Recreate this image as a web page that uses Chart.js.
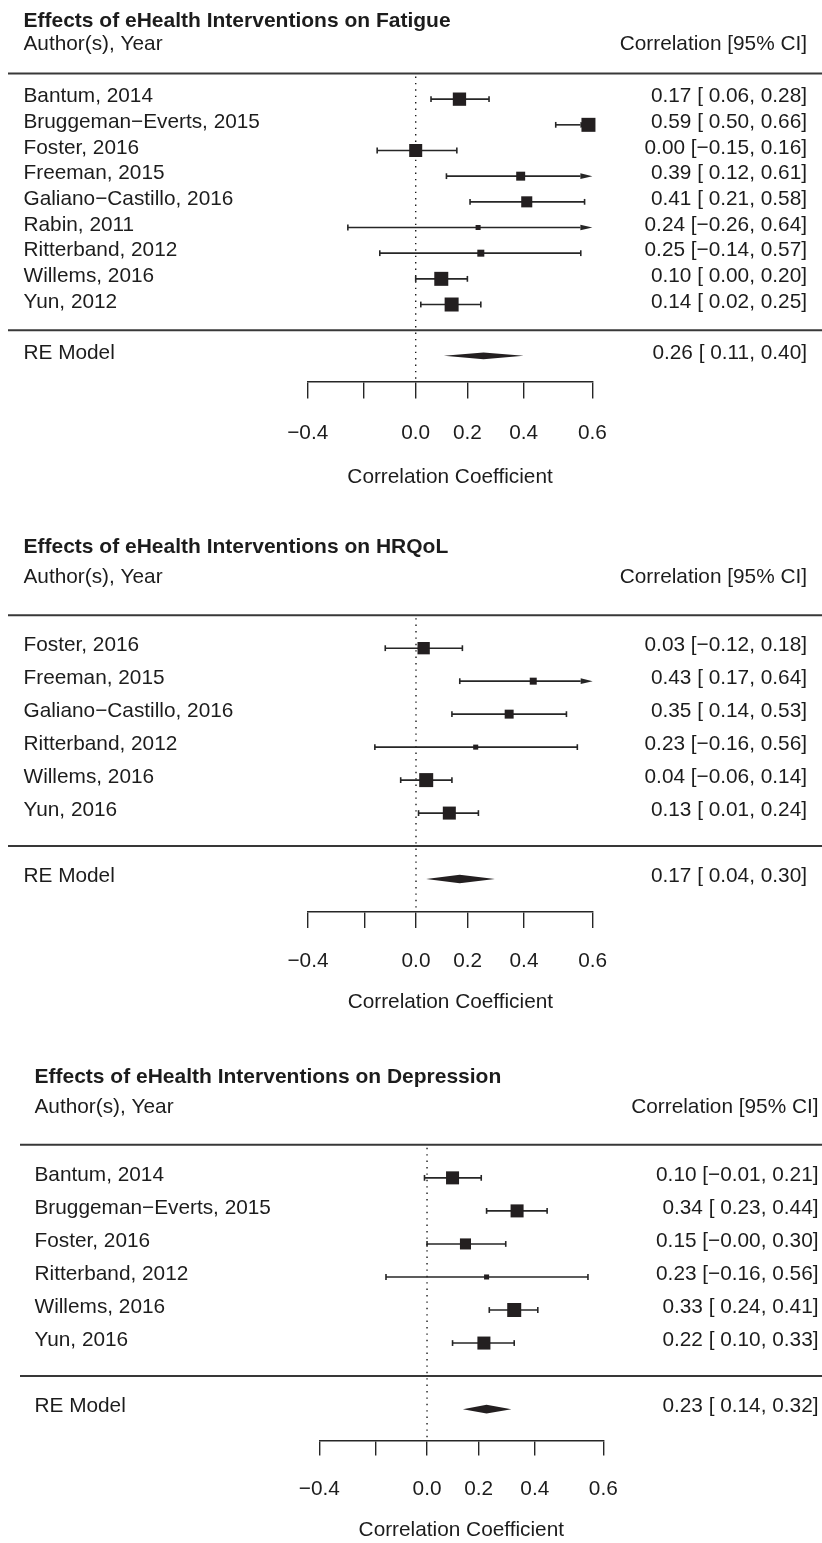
<!DOCTYPE html>
<html>
<head>
<meta charset="utf-8">
<title>eHealth forest plots</title>
<script src="https://cdn.jsdelivr.net/npm/chart.js@4.4.1/dist/chart.umd.min.js"></script>
<style>
  html, body { margin: 0; padding: 0; background: #fff; }
  body { width: 822px; height: 1543px; position: relative; overflow: hidden; }
  .panel { position: absolute; left: 0; width: 822px; }
</style>
</head>
<body>
<div class="panel" id="fatigueBox"><canvas id="fatigueChart"></canvas></div>
<div class="panel" id="hrqolBox"><canvas id="hrqolChart"></canvas></div>
<div class="panel" id="depressionBox"><canvas id="depressionChart"></canvas></div>
<script>
// ---------------- data (correlations)
const fatigueStudies = ['Bantum, 2014', 'Bruggeman−Everts, 2015', 'Foster, 2016', 'Freeman, 2015',
  'Galiano−Castillo, 2016', 'Rabin, 2011', 'Ritterband, 2012', 'Willems, 2016', 'Yun, 2012'];
const fatigueEst = [0.17, 0.59, 0.00, 0.39, 0.41, 0.24, 0.25, 0.10, 0.14];
const fatigueLo = [0.06, 0.50, -0.15, 0.12, 0.21, -0.26, -0.14, 0.00, 0.02];
const fatigueHi = [0.28, 0.66, 0.16, 0.61, 0.58, 0.64, 0.57, 0.20, 0.25];
const fatigueWeight = [0.95, 1.00, 0.93, 0.64, 0.79, 0.36, 0.50, 1.00, 1.00];
const fatigueRE = [0.26, 0.11, 0.40];

const hrqolStudies = ['Foster, 2016', 'Freeman, 2015', 'Galiano−Castillo, 2016',
  'Ritterband, 2012', 'Willems, 2016', 'Yun, 2016'];
const hrqolEst = [0.03, 0.43, 0.35, 0.23, 0.04, 0.13];
const hrqolLo = [-0.12, 0.17, 0.14, -0.16, -0.06, 0.01];
const hrqolHi = [0.18, 0.64, 0.53, 0.56, 0.14, 0.24];
const hrqolWeight = [0.88, 0.50, 0.64, 0.36, 1.00, 0.93];
const hrqolRE = [0.17, 0.04, 0.30];

const depressionStudies = ['Bantum, 2014', 'Bruggeman−Everts, 2015', 'Foster, 2016',
  'Ritterband, 2012', 'Willems, 2016', 'Yun, 2016'];
const depressionEst = [0.10, 0.34, 0.15, 0.23, 0.33, 0.22];
const depressionLo = [-0.01, 0.23, -0.00, -0.16, 0.24, 0.10];
const depressionHi = [0.21, 0.44, 0.30, 0.56, 0.41, 0.33];
const depressionWeight = [0.93, 0.93, 0.79, 0.36, 1.00, 0.93];
const depressionRE = [0.23, 0.14, 0.32];

const axisTicks = [-0.4, -0.2, 0.0, 0.2, 0.4, 0.6];
const axisLabels = ['−0.4', '', '0.0', '0.2', '0.4', '0.6'];

// ---------------- look
const FONT = 'Liberation Sans, Arial, Helvetica, sans-serif';
const FSIZE = 20.8;
const LINE_H = FSIZE * 1.2;
const INK = '#1c1c1c';
const BOX = '#231f20';

Chart.defaults.font.family = FONT;
Chart.defaults.font.size = FSIZE;
Chart.defaults.color = INK;

function num(v) {
  return (v < 0 || Object.is(v, -0) ? '−' : '') + Math.abs(v).toFixed(2);
}
function ciLabel(e, l, h) {
  const pad = (l < 0 || Object.is(l, -0)) ? '' : ' ';
  return num(e) + ' [' + pad + num(l) + ', ' + num(h) + ']';
}

// lines, CIs, arrows and the summary diamond
const forestMarks = {
  id: 'forestMarks',
  beforeDatasetsDraw(chart, args, opts) {
    const { ctx, chartArea } = chart;
    const xs = chart.scales.x, ys = chart.scales.y;
    const k = opts.lo.length;
    ctx.save();

    // horizontal rules
    ctx.strokeStyle = '#383838';
    ctx.lineWidth = 2;
    [0, k + 1].forEach(r => {
      const py = ys.getPixelForValue(r);
      ctx.beginPath(); ctx.moveTo(opts.ruleLeft, py); ctx.lineTo(822, py); ctx.stroke();
    });

    // dotted line at zero
    const x0 = xs.getPixelForValue(0);
    ctx.strokeStyle = INK;
    ctx.lineWidth = 1.4;
    ctx.setLineDash([1.4, 5]);
    ctx.beginPath(); ctx.moveTo(x0, ys.getPixelForValue(0) + 3); ctx.lineTo(x0, chartArea.bottom); ctx.stroke();
    ctx.setLineDash([]);

    // confidence intervals
    ctx.strokeStyle = '#262626';
    ctx.fillStyle = '#262626';
    ctx.lineWidth = 1.6;
    const cap = 2.9, arrowLen = 12, arrowHalf = 2.8;
    for (let i = 0; i < k; i++) {
      const py = ys.getPixelForValue(i + 1);
      const pl = xs.getPixelForValue(Math.atanh(opts.lo[i]));
      const ph = xs.getPixelForValue(Math.atanh(opts.hi[i]));
      const clipL = pl < chartArea.left, clipR = ph > chartArea.right;
      const a = clipL ? chartArea.left + arrowLen : pl;
      const b = clipR ? chartArea.right - arrowLen : ph;
      ctx.beginPath(); ctx.moveTo(a, py); ctx.lineTo(b, py); ctx.stroke();
      if (clipL) {
        ctx.beginPath();
        ctx.moveTo(chartArea.left, py); ctx.lineTo(a, py - arrowHalf); ctx.lineTo(a, py + arrowHalf);
        ctx.closePath(); ctx.fill();
      } else {
        ctx.beginPath(); ctx.moveTo(pl, py - cap); ctx.lineTo(pl, py + cap); ctx.stroke();
      }
      if (clipR) {
        ctx.beginPath();
        ctx.moveTo(chartArea.right, py); ctx.lineTo(b, py - arrowHalf); ctx.lineTo(b, py + arrowHalf);
        ctx.closePath(); ctx.fill();
      } else {
        ctx.beginPath(); ctx.moveTo(ph, py - cap); ctx.lineTo(ph, py + cap); ctx.stroke();
      }
    }

    // RE model diamond
    const re = opts.re, rr = k + 2, h = 0.13;
    ctx.fillStyle = BOX;
    ctx.beginPath();
    ctx.moveTo(xs.getPixelForValue(Math.atanh(re[1])), ys.getPixelForValue(rr));
    ctx.lineTo(xs.getPixelForValue(Math.atanh(re[0])), ys.getPixelForValue(rr - h));
    ctx.lineTo(xs.getPixelForValue(Math.atanh(re[2])), ys.getPixelForValue(rr));
    ctx.lineTo(xs.getPixelForValue(Math.atanh(re[0])), ys.getPixelForValue(rr + h));
    ctx.closePath();
    ctx.fill();
    ctx.restore();
  }
};

function forest(boxId, canvasId, title, studies, est, lo, hi, weight, re, geo) {
  const k = studies.length;
  const axisRow = k + 3 + (geo.axisAdj || 0);

  // vertical geometry: title box on top, rows in the chart area, x axis below
  const titleCenter = geo.row0Y - 2.05 * geo.rowPx;
  const top = Math.round(titleCenter - LINE_H / 2 - 2);
  const titlePad = titleCenter - LINE_H / 2 - top;
  const chartTop = titleCenter + LINE_H / 2;
  const yMin = (chartTop - geo.row0Y) / geo.rowPx;
  const chartH = (axisRow - yMin) * geo.rowPx;
  const tickPad = geo.labelOff - geo.tickLen - LINE_H / 2;
  const axTitlePad = geo.titleOff - geo.tickLen - 2 * tickPad - 1.5 * LINE_H;
  const xAxisH = geo.tickLen + 2 * tickPad + 2 * LINE_H + axTitlePad + 2;
  const height = Math.round(titlePad + LINE_H + chartH + xAxisH);

  const box = document.getElementById(boxId);
  box.style.top = top + 'px';
  box.style.height = height + 'px';

  const shift = 2.5 / geo.rowPx;
  const rows = studies.map((s, i) => i + 1 - shift);
  const leftVals = [-1.15].concat(rows, [k + 2 - shift]);
  const leftText = ['Author(s), Year'].concat(studies, ['RE Model']);
  const rightVals = [-1.15].concat(rows, [k + 2 - shift]);
  const rightText = ['Correlation [95% CI]']
    .concat(est.map((e, i) => ciLabel(e, lo[i], hi[i])), [ciLabel(re[0], re[1], re[2])]);

  const yCommon = {
    type: 'linear', reverse: true, min: yMin, max: axisRow,
    grid: { display: false }, border: { display: false }
  };

  return new Chart(document.getElementById(canvasId), {
    type: 'scatter',
    data: {
      datasets: [{
        data: est.map((r, i) => ({ x: Math.atanh(r), y: i + 1 })),
        pointStyle: 'rect',
        pointRadius: c => (weight[c.dataIndex] * 14) / (2 * Math.SQRT1_2),
        pointBorderWidth: 0,
        backgroundColor: BOX,
        clip: false
      }]
    },
    options: {
      responsive: true,
      maintainAspectRatio: false,
      animation: false,
      events: [],
      layout: { padding: { left: geo.textLeft, right: 822 - geo.textRight, top: 0, bottom: 0 } },
      plugins: {
        legend: { display: false },
        tooltip: { enabled: false },
        title: {
          display: true, text: title, align: 'start', color: INK,
          font: { family: FONT, size: 21, weight: 'bold' },
          padding: { top: titlePad, bottom: 0 }
        },
        forestMarks: { lo: lo, hi: hi, re: re, ruleLeft: geo.ruleLeft }
      },
      scales: {
        x: {
          type: 'linear',
          min: Math.atanh(axisTicks[0]),
          max: Math.atanh(axisTicks[axisTicks.length - 1]),
          afterBuildTicks: s => { s.ticks = axisTicks.map(v => ({ value: Math.atanh(v) })); },
          ticks: {
            autoSkip: false, maxRotation: 0, padding: tickPad, color: INK,
            callback: (v, i) => axisLabels[i]
          },
          grid: {
            drawOnChartArea: false, drawTicks: true, tickLength: geo.tickLen,
            color: '#262626', lineWidth: 1.4
          },
          border: { display: true, color: '#262626', width: 1.4 },
          title: {
            display: true, text: 'Correlation Coefficient', color: INK,
            padding: { top: axTitlePad, bottom: 2 }
          }
        },
        y: Object.assign({}, yCommon, {
          position: 'left',
          afterBuildTicks: s => { s.ticks = leftVals.map(v => ({ value: v })); },
          afterFit: s => { s.width = geo.chartLeft - geo.textLeft; },
          ticks: {
            autoSkip: false, crossAlign: 'far', padding: 0, color: INK,
            callback: (v, i) => leftText[i]
          }
        }),
        y2: Object.assign({}, yCommon, {
          position: 'right',
          afterBuildTicks: s => { s.ticks = rightVals.map(v => ({ value: v })); },
          afterFit: s => { s.width = geo.textRight - geo.chartRight; },
          ticks: {
            autoSkip: false, crossAlign: 'far', padding: 0, color: INK,
            callback: (v, i) => rightText[i]
          }
        })
      }
    },
    plugins: [forestMarks]
  });
}

forest('fatigueBox', 'fatigueChart', 'Effects of eHealth Interventions on Fatigue',
  fatigueStudies, fatigueEst, fatigueLo, fatigueHi, fatigueWeight, fatigueRE,
  { row0Y: 73.3, rowPx: 25.7, chartLeft: 307.7, chartRight: 592.4, textLeft: 23.5, textRight: 807,
    ruleLeft: 8, tickLen: 17, labelOff: 52, titleOff: 96 });

forest('hrqolBox', 'hrqolChart', 'Effects of eHealth Interventions on HRQoL',
  hrqolStudies, hrqolEst, hrqolLo, hrqolHi, hrqolWeight, hrqolRE,
  { row0Y: 615, rowPx: 33, chartLeft: 308, chartRight: 592.7, textLeft: 23.5, textRight: 807,
    ruleLeft: 8, tickLen: 16, labelOff: 49.5, titleOff: 90.5 });

forest('depressionBox', 'depressionChart', 'Effects of eHealth Interventions on Depression',
  depressionStudies, depressionEst, depressionLo, depressionHi, depressionWeight, depressionRE,
  { row0Y: 1144.6, rowPx: 33.05, chartLeft: 319.3, chartRight: 603.3, textLeft: 34.5, textRight: 818.5,
    ruleLeft: 20, tickLen: 15, labelOff: 49, titleOff: 90, axisAdj: -0.05 });
</script>
</body>
</html>
